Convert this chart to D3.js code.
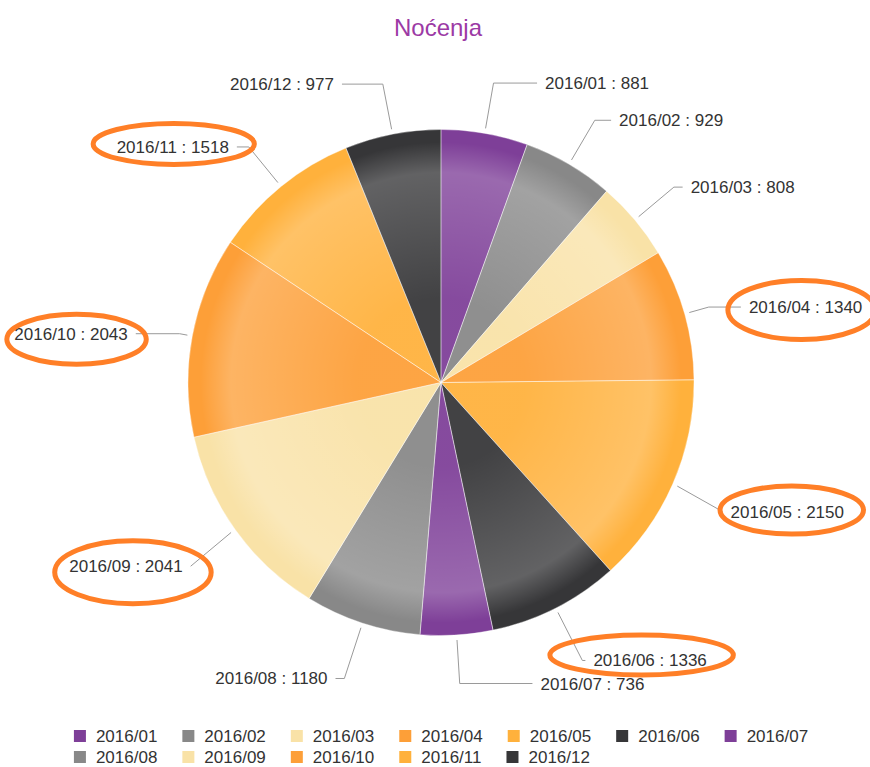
<!DOCTYPE html>
<html>
<head>
<meta charset="utf-8">
<script src="https://cdn.jsdelivr.net/npm/d3@7"></script>
<style>
  body { margin: 0; background: #fff; }
  svg { display: block; font-family: "Liberation Sans", Arial, sans-serif; }
</style>
</head>
<body>
<svg id="chart" width="870" height="767"></svg>
<script>
// data
const months = ["2016/01", "2016/02", "2016/03", "2016/04", "2016/05", "2016/06",
                "2016/07", "2016/08", "2016/09", "2016/10", "2016/11", "2016/12"];
const values = [881, 929, 808, 1340, 2150, 1336, 736, 1180, 2041, 2043, 1518, 977];
const palette = ["#7e3f98", "#888888", "#f9e2a7", "#fd9f38", "#ffb13c", "#363638"];
const title = "Noćenja";

// labels that were circled by hand on the screenshot
const circled = [
    { month: "2016/04", dx: -4, dy: 3, padX: 17, ry: 29.5 },
    { month: "2016/05", dx: 4.5, dy: -1.5, padX: 15, ry: 24 },
    { month: "2016/06", dx: -8.5, dy: -5.5, padX: 35, ry: 20 },
    { month: "2016/09", dx: 7, dy: 6, padX: 21.5, ry: 31.5 },
    { month: "2016/10", dx: 5.5, dy: 5.5, padX: 13, ry: 25 },
    { month: "2016/11", dx: 1, dy: -3, padX: 24.5, ry: 20.5 }
];

const cx = 441, cy = 382.5, r = 253;
const labelR = 304;   // radius where label heights are taken
const labelX = 317;   // radius of the circle the label edges sit on

const data = months.map((m, i) => ({ month: m, value: values[i] }));
const color = d3.scaleOrdinal(months, palette);

const svg = d3.select("#chart");
const defs = svg.append("defs");

// bevel overlay, centred on the pie
const grad = defs.append("radialGradient")
    .attr("id", "bevel")
    .attr("gradientUnits", "userSpaceOnUse")
    .attr("cx", 0).attr("cy", 0).attr("r", r);
grad.append("stop").attr("offset", 0.33).attr("stop-color", "#fff").attr("stop-opacity", 0.06);
grad.append("stop").attr("offset", 0.83).attr("stop-color", "#fff").attr("stop-opacity", 0.22);
grad.append("stop").attr("offset", 0.95).attr("stop-color", "#fff").attr("stop-opacity", 0);

// title
svg.append("text")
    .attr("x", 438).attr("y", 36)
    .attr("text-anchor", "middle")
    .attr("font-size", 24)
    .attr("fill", "#9c3aa5")
    .text(title);

const pie = d3.pie().sort(null).value(d => d.value);
const arcs = pie(data);
const arc = d3.arc().innerRadius(0).outerRadius(r);

const g = svg.append("g").attr("transform", `translate(${cx},${cy})`);

g.selectAll("path.slice")
    .data(arcs)
    .join("path")
    .attr("class", "slice")
    .attr("d", arc)
    .attr("fill", d => color(d.data.month));

g.selectAll("path.bevel")
    .data(arcs)
    .join("path")
    .attr("class", "bevel")
    .attr("d", arc)
    .attr("fill", "url(#bevel)")
    .attr("stroke", "#fff")
    .attr("stroke-opacity", 0.5)
    .attr("stroke-width", 0.7);

// labels
const pt = (a, t) => [cx + t * Math.sin(a), cy - t * Math.cos(a)];

const labels = arcs.map(d => {
    const a = (d.startAngle + d.endAngle) / 2;
    const right = Math.sin(a) >= 0;
    let y = cy - labelR * Math.cos(a) + (Math.cos(a) < 0.3 ? 7 : 0);
    y = Math.max(cy - 301, Math.min(cy + 301, y));
    const dy = y - cy;
    const x = cx + (right ? 1 : -1) * Math.sqrt(labelX * labelX - dy * dy);
    return { d, a, right, x, y };
});

const lineGen = d3.line();
const lg = svg.append("g");

labels.forEach(l => {
    const start = pt(l.a, r + 5);
    const endX = l.x + (l.right ? -8 : 8);
    const pts = [start];
    const c = Math.cos(l.a);
    if (Math.abs(c) > 0.05) {
        const t = (cy - l.y) / c;
        if (t > r + 5) {
            const e = pt(l.a, t);
            if (Math.abs(e[0] - cx) < Math.abs(endX - cx)) pts.push([e[0], l.y]);
        }
    }
    pts.push([endX, l.y]);
    lg.append("path")
        .attr("d", lineGen(pts))
        .attr("fill", "none")
        .attr("stroke", "#9a9a9a")
        .attr("stroke-width", 1);

    l.node = lg.append("text")
        .attr("x", l.x)
        .attr("y", l.y + 6)
        .attr("text-anchor", l.right ? "start" : "end")
        .attr("font-size", 17)
        .attr("fill", "#333")
        .text(`${l.d.data.month} : ${l.d.data.value}`)
        .node();
});

// hand drawn circles
circled.forEach(c => {
    const l = labels.find(l => l.d.data.month === c.month);
    const b = l.node.getBBox();
    svg.append("ellipse")
        .attr("cx", b.x + b.width / 2 + c.dx)
        .attr("cy", l.y + c.dy)
        .attr("rx", b.width / 2 + c.padX)
        .attr("ry", c.ry)
        .attr("fill", "none")
        .attr("stroke", "#ff7f27")
        .attr("stroke-width", 5);
});

// legend
const legend = svg.append("g");
const items = months.map(m => {
    const it = legend.append("g");
    it.append("rect").attr("width", 12).attr("height", 12).attr("y", -6)
        .attr("fill", color(m));
    const t = it.append("text").attr("x", 22).attr("y", 6)
        .attr("font-size", 17).attr("fill", "#333").text(m);
    return { it, w: 22 + t.node().getComputedTextLength() };
});
const gap = 25, maxW = 800, rowH = 21;
const rows = [[]], rowW = [0];
items.forEach(o => {
    let k = rows.length - 1;
    const add = (rows[k].length ? gap : 0) + o.w;
    if (rowW[k] + add > maxW) { rows.push([]); rowW.push(0); k++; }
    rowW[k] += (rows[k].length ? gap : 0) + o.w;
    rows[k].push(o);
});
const boxW = d3.max(rowW);
const x0 = cx - boxW / 2;
rows.forEach((row, ri) => {
    let x = x0;
    row.forEach(o => {
        o.it.attr("transform", `translate(${x},${736 + ri * rowH})`);
        x += o.w + gap;
    });
});
</script>
</body>
</html>
